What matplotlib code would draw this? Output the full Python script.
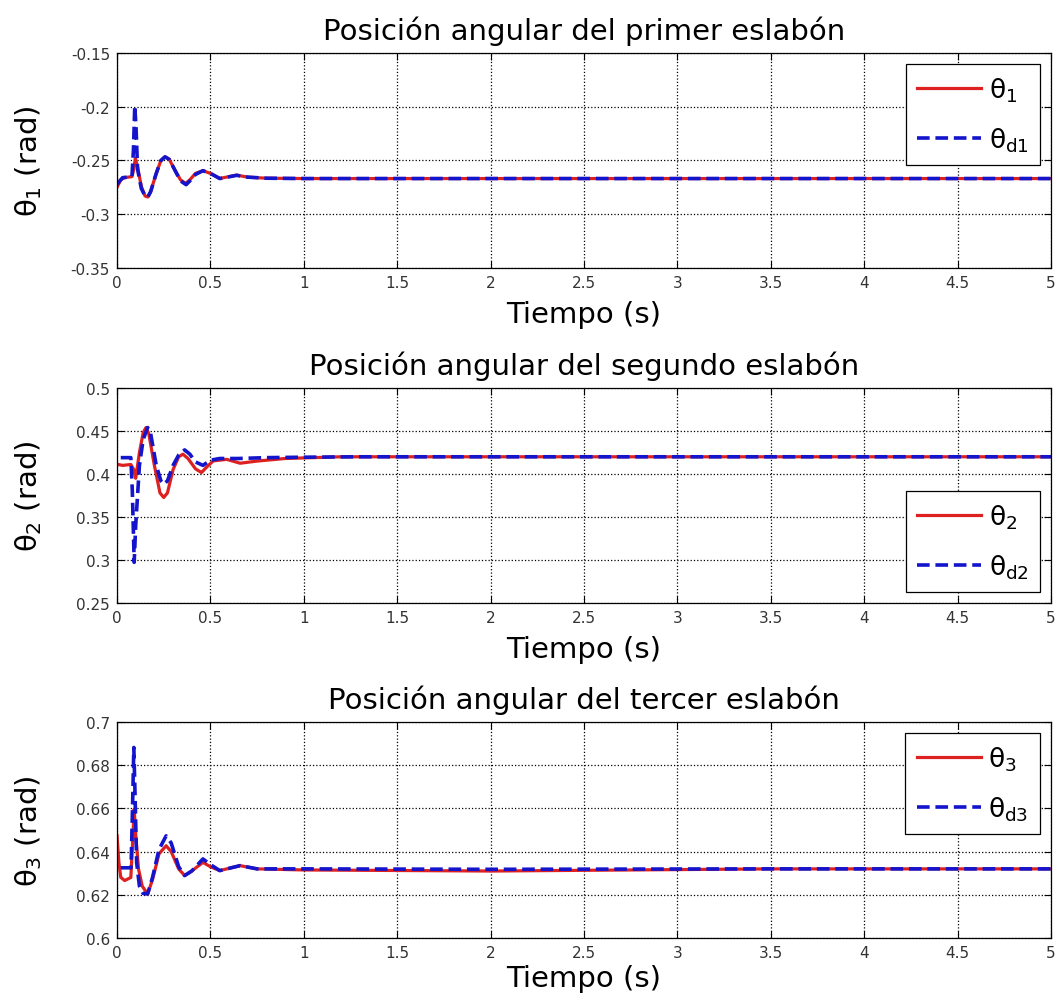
import numpy as np
import matplotlib
matplotlib.use("Agg")
import matplotlib.pyplot as plt
from matplotlib.ticker import FuncFormatter

plt.rcParams['font.family'] = ['DejaVu Sans']
plt.rcParams['mathtext.fontset'] = 'custom'
plt.rcParams['mathtext.rm'] = 'DejaVu Sans'
plt.rcParams['mathtext.it'] = 'DejaVu Sans'
plt.rcParams['mathtext.bf'] = 'DejaVu Sans:bold'

t1 = [0.0, 0.02, 0.04, 0.08, 0.09, 0.098, 0.11, 0.13, 0.15, 0.165, 0.18, 0.21, 0.235,
      0.257, 0.28, 0.31, 0.34, 0.367, 0.39, 0.42, 0.46, 0.5, 0.55, 0.6, 0.64, 0.7, 0.8, 1.0, 5.0]
theta1 = [-0.275, -0.268, -0.266, -0.265, -0.258, -0.248, -0.256, -0.274, -0.283, -0.284,
          -0.279, -0.262, -0.250, -0.2466, -0.249, -0.259, -0.268, -0.2713, -0.268, -0.262,
          -0.2595, -0.262, -0.2667, -0.265, -0.2636, -0.2655, -0.2665, -0.2668, -0.2668]
td1 = [0.0, 0.03, 0.08, 0.088, 0.095, 0.102, 0.11, 0.13, 0.15, 0.165, 0.18, 0.21, 0.235,
       0.257, 0.28, 0.31, 0.34, 0.37, 0.39, 0.42, 0.46, 0.5, 0.55, 0.6, 0.64, 0.7, 0.8, 1.0, 5.0]
theta_d1 = [-0.272, -0.266, -0.265, -0.24, -0.199, -0.22, -0.258, -0.276, -0.283, -0.284,
            -0.279, -0.262, -0.250, -0.2466, -0.249, -0.259, -0.269, -0.2725, -0.269, -0.263,
            -0.2595, -0.262, -0.2668, -0.2652, -0.2638, -0.2655, -0.2665, -0.2668, -0.2668]

# Joint 2
t2 = [0.0, 0.03, 0.074, 0.09, 0.1, 0.12, 0.14, 0.155, 0.17, 0.2, 0.23, 0.25, 0.27,
      0.3, 0.33, 0.353, 0.38, 0.42, 0.452, 0.48, 0.515, 0.587, 0.659, 0.75, 0.9, 1.2, 5.0]
theta2 = [0.4113, 0.410, 0.411, 0.405, 0.395, 0.425, 0.448, 0.454, 0.447, 0.41, 0.378,
          0.3727, 0.378, 0.405, 0.42, 0.423, 0.418, 0.406, 0.4017, 0.408, 0.4152, 0.417,
          0.4125, 0.415, 0.418, 0.42, 0.42]
td2 = [0.02, 0.074, 0.082, 0.092, 0.1, 0.12, 0.14, 0.164, 0.18, 0.21, 0.235, 0.25, 0.27,
       0.3, 0.33, 0.362, 0.39, 0.42, 0.46, 0.5, 0.55, 0.65, 0.8, 1.0, 1.3, 5.0]
theta_d2 = [0.419, 0.419, 0.38, 0.2973, 0.34, 0.41, 0.44, 0.454, 0.447, 0.41, 0.392,
            0.388, 0.392, 0.41, 0.422, 0.428, 0.423, 0.414, 0.410, 0.416, 0.418, 0.418,
            0.419, 0.4195, 0.42, 0.42]

# Joint 3
t3 = [0.0, 0.01, 0.02, 0.041, 0.074, 0.084, 0.092, 0.1, 0.115, 0.135, 0.164, 0.19, 0.225,
      0.263, 0.29, 0.33, 0.362, 0.4, 0.46, 0.5, 0.55, 0.659, 0.75, 1.0, 2.0, 3.5, 5.0]
theta3 = [0.6474, 0.635, 0.6281, 0.6266, 0.628, 0.645, 0.6597, 0.648, 0.632, 0.624,
          0.6204, 0.627, 0.639, 0.6427, 0.640, 0.632, 0.6289, 0.631, 0.635, 0.633,
          0.6312, 0.6335, 0.632, 0.6315, 0.631, 0.632, 0.632]
td3 = [0.02, 0.075, 0.083, 0.09, 0.097, 0.105, 0.12, 0.14, 0.164, 0.19, 0.225, 0.263,
       0.29, 0.33, 0.362, 0.4, 0.46, 0.5, 0.55, 0.659, 0.75, 1.0, 2.0, 3.5, 5.0]
theta_d3 = [0.6325, 0.6325, 0.66, 0.6882, 0.665, 0.635, 0.624, 0.6206, 0.6204, 0.628,
            0.641, 0.6473, 0.644, 0.633, 0.6289, 0.631, 0.6366, 0.634, 0.6312, 0.6335,
            0.632, 0.632, 0.6318, 0.632, 0.632]

titles = ['Posición angular del primer eslabón',
          'Posición angular del segundo eslabón',
          'Posición angular del tercer eslabón']
ylabels = [r'$\theta_1$ (rad)', r'$\theta_2$ (rad)', r'$\theta_3$ (rad)']
leg_labels = [(r'$\theta_1$', r'$\theta_{d1}$'),
              (r'$\theta_2$', r'$\theta_{d2}$'),
              (r'$\theta_3$', r'$\theta_{d3}$')]
yticks = [[-0.35, -0.3, -0.25, -0.2, -0.15],
          [0.25, 0.3, 0.35, 0.4, 0.45, 0.5],
          [0.6, 0.62, 0.64, 0.66, 0.68, 0.7]]
xticks = [0, 0.5, 1, 1.5, 2, 2.5, 3, 3.5, 4, 4.5, 5]
leg_locs = ['upper right', 'lower right', 'upper right']
xlabel_pads = [7, 7, 3]

series = [(t1, theta1, td1, theta_d1), (t2, theta2, td2, theta_d2), (t3, theta3, td3, theta_d3)]
rects = [[0.1107, 0.7318, 0.8836, 0.2144],
         [0.1107, 0.3978, 0.8836, 0.2144],
         [0.1107, 0.0638, 0.8836, 0.2154]]

fig = plt.figure(figsize=(10.57, 10.03), dpi=100)
fmt = FuncFormatter(lambda v, p: ('%g' % round(v, 4)))

for i in range(3):
    ax = fig.add_axes(rects[i])
    ta, ya, tb, yb = series[i]
    ax.plot(ta, ya, '-', color='#dd2020', linewidth=2.3, label=leg_labels[i][0])
    ax.plot(tb, yb, '--', color='#1414cc', linewidth=2.6, dashes=(3.5, 1.6),
            label=leg_labels[i][1])
    ax.set_xlim(0, 5)
    ax.set_ylim(yticks[i][0], yticks[i][-1])
    ax.set_xticks(xticks)
    ax.set_yticks(yticks[i])
    ax.xaxis.set_major_formatter(fmt)
    ax.yaxis.set_major_formatter(fmt)
    ax.grid(True, linestyle=':', color='black', linewidth=0.9)
    ax.tick_params(direction='in', top=True, right=True, length=5, labelsize=11,
                   labelcolor='#333333', pad=5)
    for s in ax.spines.values():
        s.set_linewidth(0.9)
    ax.set_title(titles[i], fontsize=21, pad=10)
    ax.set_xlabel('Tiempo (s)', fontsize=21, labelpad=xlabel_pads[i])
    ax.set_ylabel(ylabels[i], fontsize=21)
    ax.yaxis.set_label_coords(-0.078, 0.5)
    leg = ax.legend(loc=leg_locs[i], fontsize=19, handlelength=2.4, labelspacing=0.8,
                    fancybox=False, framealpha=1, edgecolor='black', borderaxespad=0.4,
                    handletextpad=0.3, borderpad=0.45)
    leg.get_frame().set_linewidth(0.9)

fig.savefig('out.png', dpi=100)
